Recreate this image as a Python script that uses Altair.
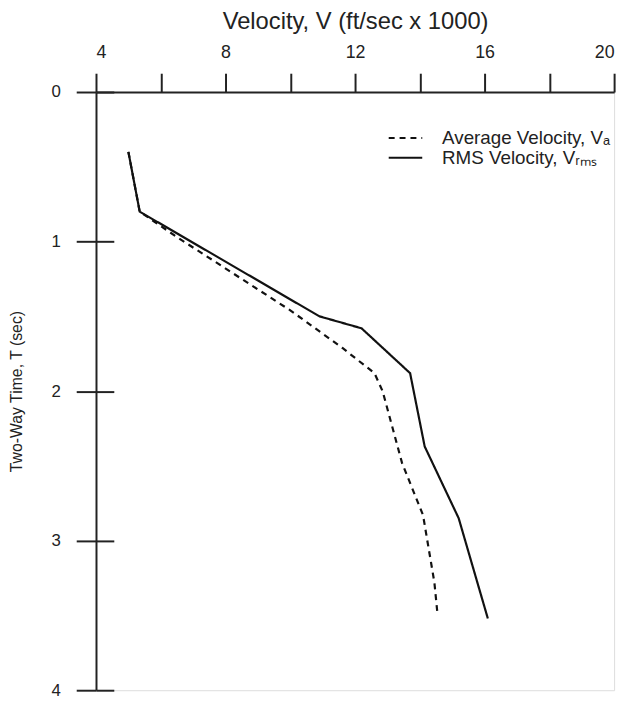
import altair as alt
import pandas as pd

# Values
avg_label = "Average Velocity, Vₐ"
rms_label = "RMS Velocity, Vᵣₘₛ"

rms_v = [5.0, 5.35, 10.9, 12.2, 13.7, 14.15, 15.2, 16.1]
rms_t = [0.40, 0.80, 1.50, 1.58, 1.88, 2.37, 2.85, 3.52]

avg_v = [5.0, 5.35, 6.5, 10.0, 11.6, 12.6, 12.85, 13.45, 14.1, 14.45, 14.55]
avg_t = [0.40, 0.80, 0.97, 1.46, 1.71, 1.88, 2.0, 2.48, 2.83, 3.28, 3.50]

x_ticks = [4, 6, 8, 10, 12, 14, 16, 18, 20]
y_ticks = [0, 1, 2, 3, 4]

rows = []
for i, (v, t) in enumerate(zip(avg_v, avg_t)):
    rows.append({"series": avg_label, "V": v, "T": t, "idx": i})
for i, (v, t) in enumerate(zip(rms_v, rms_t)):
    rows.append({"series": rms_label, "V": v, "T": t, "idx": i})
df = pd.DataFrame(rows)

FONT = "Liberation Sans"
W, H = 524, 605

xscale = alt.Scale(domain=[4, 20], nice=False, zero=False)
yscale = alt.Scale(domain=[0, 4], nice=False, reverse=True, zero=False)

x_axis = alt.Axis(orient="top", values=x_ticks, title="Velocity, V (ft/sec x 1000)",
                  labelExpr="datum.value % 4 == 0 ? datum.label : ''",
                  tickSize=19, tickWidth=2, domainWidth=2, domainColor="#222", tickColor="#222",
                  labelFont=FONT, labelFontSize=18, labelColor="#222", labelPadding=12,
                  titleFont=FONT, titleFontSize=24, titleFontWeight="normal", titleColor="#222",
                  titlePadding=10, grid=False)

lines = alt.Chart(df).mark_line(color="#111", strokeWidth=2.2).encode(
    x=alt.X("V:Q", scale=xscale, axis=x_axis),
    y=alt.Y("T:Q", scale=yscale,
            axis=alt.Axis(orient="left", values=y_ticks, title="Two-Way Time, T (sec)",
                          tickSize=20, tickWidth=2, domainWidth=2, domainColor="#222", tickColor="#222",
                          labelFont=FONT, labelFontSize=17, labelColor="#222", labelPadding=16,
                          titleFont=FONT, titleFontSize=16, titleFontWeight="normal", titleColor="#222",
                          titlePadding=27, grid=False)),
    strokeDash=alt.StrokeDash("series:N",
                              scale=alt.Scale(domain=[avg_label, rms_label], range=[[6, 5], [1, 0]]),
                              legend=alt.Legend(title=None, orient="none", legendX=295, legendY=37,
                                                symbolType="stroke", symbolSize=1150, symbolStrokeWidth=2,
                                                symbolStrokeColor="#111", labelFont=FONT, labelFontSize=19,
                                                labelColor="#222", labelOffset=19, rowPadding=0,
                                                clipHeight=19, labelLimit=400)),
    order=alt.Order("idx:Q"),
)

# second (inner) half of the cross-shaped ticks on the time axis
inner_ticks = alt.Chart(df).mark_line(opacity=0).encode(
    x=alt.X("V:Q", scale=xscale, axis=x_axis),
    y=alt.Y("T:Q", scale=yscale,
            axis=alt.Axis(orient="right", values=y_ticks, offset=-W, labels=False, domain=False,
                          title=None, tickSize=18, tickWidth=2, tickColor="#222", grid=False)),
    detail="series:N",
)

chart = alt.layer(lines, inner_ticks).resolve_axis(y="independent").properties(
    width=W, height=H,
    autosize=alt.AutoSizeParams(type="none"),
    padding={"left": 89, "top": 81, "right": 10, "bottom": 12},
).configure_view(stroke="transparent", strokeWidth=0).configure(background="white")

chart.save("out.html", embed_options={"renderer": "svg", "actions": False})
